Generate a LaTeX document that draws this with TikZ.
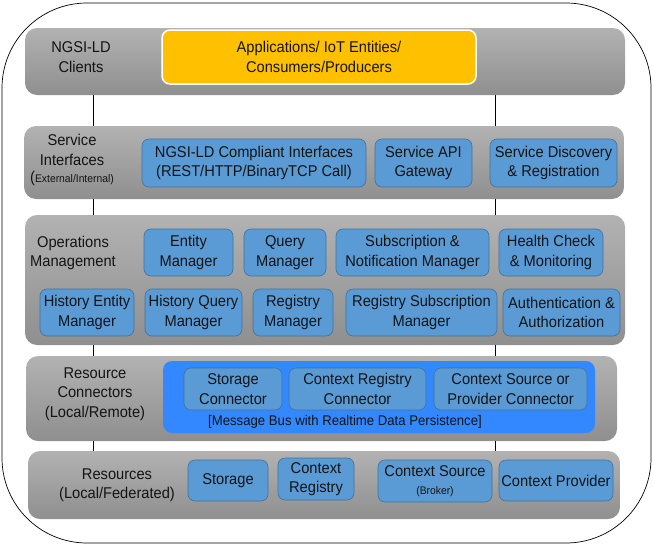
\documentclass[tikz,border=0pt]{standalone}
\usepackage{fontspec}
\setmainfont{Liberation Sans}[FakeStretch=0.94]
\definecolor{laytop}{RGB}{178,178,178}
\definecolor{laybot}{RGB}{143,143,143}
\definecolor{boxfill}{RGB}{91,155,213}
\definecolor{boxdraw}{RGB}{65,113,156}
\definecolor{orangefill}{RGB}{255,192,0}
\definecolor{busfill}{RGB}{51,136,255}
\definecolor{txt}{RGB}{20,20,20}
\begin{document}
\begin{tikzpicture}[x=1pt,y=-1pt,
  every node/.style={inner sep=0pt, align=center, text=txt, font=\fontsize{15.6}{19.5}\selectfont},
  layer/.style={rounded corners=12pt, top color=laytop, bottom color=laybot, draw=none},
  bluebox/.style={rounded corners=7pt, fill=boxfill, draw=boxdraw, line width=0.6pt},
  orangebox/.style={rounded corners=8pt, fill=orangefill, draw=white, line width=1.5pt},
  busbox/.style={rounded corners=9pt, fill=busfill, draw=none},
  lbl/.style={}
]
\useasboundingbox (0,0) rectangle (653,546);
% outer frame
\draw[line width=0.7pt, rounded corners=85pt] (2,3) rectangle (651,543);
% vertical connector positions
\coordinate (xa) at (93,0);
\coordinate (xb) at (495,0);
% layers
\node[layer, minimum width=600pt, minimum height=67pt] (L1) at (325,61.5) {};
\node[layer, minimum width=600pt, minimum height=73pt] (L2) at (324,162.5) {};
\node[layer, minimum width=600pt, minimum height=130pt] (L3) at (325,280) {};
\node[layer, minimum width=591pt, minimum height=85pt] (L4) at (321.5,398.5) {};
\node[layer, minimum width=592pt, minimum height=68pt] (L5) at (324,485) {};
% connectors between layers
\draw[line width=1pt] (L1.south -| xa) -- (L2.north -| xa);
\draw[line width=1pt] (L2.south -| xa) -- (L3.north -| xa);
\draw[line width=1pt] (L3.south -| xa) -- (L4.north -| xa);
\draw[line width=1pt] (L4.south -| xa) -- (L5.north -| xa);
\draw[line width=1pt] (L1.south -| xb) -- (L2.north -| xb);
\draw[line width=1pt] (L2.south -| xb) -- (L3.north -| xb);
\draw[line width=1pt] (L3.south -| xb) -- (L4.north -| xb);
\draw[line width=1pt] (L4.south -| xb) -- (L5.north -| xb);
% layer 1
\node[lbl] (t1) at (81,57) {NGSI-LD\\Clients};
\node[orangebox, minimum width=314pt, minimum height=54pt] (apps) at (319,57) {Applications/ IoT Entities/\\Consumers/Producers};
% layer 2
\node[lbl] (t2) at (72,160) {Service\\Interfaces\\[-2pt]({\fontsize{11}{12}\selectfont External/Internal)}};
\node[bluebox, minimum width=224pt, minimum height=48pt] (ngsi) at (254,163) {NGSI-LD Compliant Interfaces\\(REST/HTTP/BinaryTCP Call)};
\node[bluebox, minimum width=97pt, minimum height=48pt] (gw) at (423.5,163) {Service API\\Gateway};
\node[bluebox, minimum width=127pt, minimum height=48pt] (disc) at (553.5,163) {Service Discovery\\\& Registration};
% layer 3
\node[lbl] (t3) at (73,253) {Operations\\Management};
\node[bluebox, minimum width=89pt, minimum height=47pt] (ent) at (188.5,252.5) {Entity\\Manager};
\node[bluebox, minimum width=82pt, minimum height=47pt] (qry) at (285,252.5) {Query\\Manager};
\node[bluebox, minimum width=153pt, minimum height=47pt] (sub) at (412.5,252.5) {Subscription \&\\Notification Manager};
\node[bluebox, minimum width=104pt, minimum height=47pt] (hc) at (551,252.5) {Health Check\\\& Monitoring};
\node[bluebox, minimum width=94pt, minimum height=47pt] (hent) at (87,312.5) {History Entity\\Manager};
\node[bluebox, minimum width=97pt, minimum height=47pt] (hqry) at (193.5,312.5) {History Query\\Manager};
\node[bluebox, minimum width=80pt, minimum height=47pt] (reg) at (293,312.5) {Registry\\Manager};
\node[bluebox, minimum width=151pt, minimum height=47pt] (rsub) at (421.5,312.5) {Registry Subscription\\Manager};
\node[bluebox, minimum width=117pt, minimum height=47pt] (auth) at (561.5,312.5) {Authentication \&\\Authorization};
% layer 4
\node[lbl] (t4) at (95,394) {Resource\\Connectors\\(Local/Remote)};
\node[busbox, minimum width=432pt, minimum height=72pt] (bus) at (379,397) {};
\node[bluebox, minimum width=98pt, minimum height=42pt] (sc) at (233,389) {Storage\\Connector};
\node[bluebox, minimum width=137pt, minimum height=42pt] (crc) at (357.5,389) {Context Registry\\Connector};
\node[bluebox, minimum width=153pt, minimum height=42pt] (cpc) at (510.5,389) {Context Source or\\Provider Connector};
\node[lbl, font=\fontsize{14}{15}\selectfont] (busl) at (345,422) {[Message Bus with Realtime Data Persistence]};
% layer 5
\node[lbl] (t5) at (117,485) {Resources\\(Local/Federated)};
\node[bluebox, minimum width=80pt, minimum height=41pt] (st) at (228,480.5) {Storage};
\node[bluebox, minimum width=76pt, minimum height=42pt] (cr) at (316,479) {Context\\Registry};
\node[bluebox, minimum width=114pt, minimum height=42pt] (cs) at (435,481) {Context Source\\[-2pt]{\fontsize{11}{12}\selectfont (Broker)}};
\node[bluebox, minimum width=114pt, minimum height=41pt] (cp) at (556,480.5) {Context Provider};
\end{tikzpicture}
\end{document}
